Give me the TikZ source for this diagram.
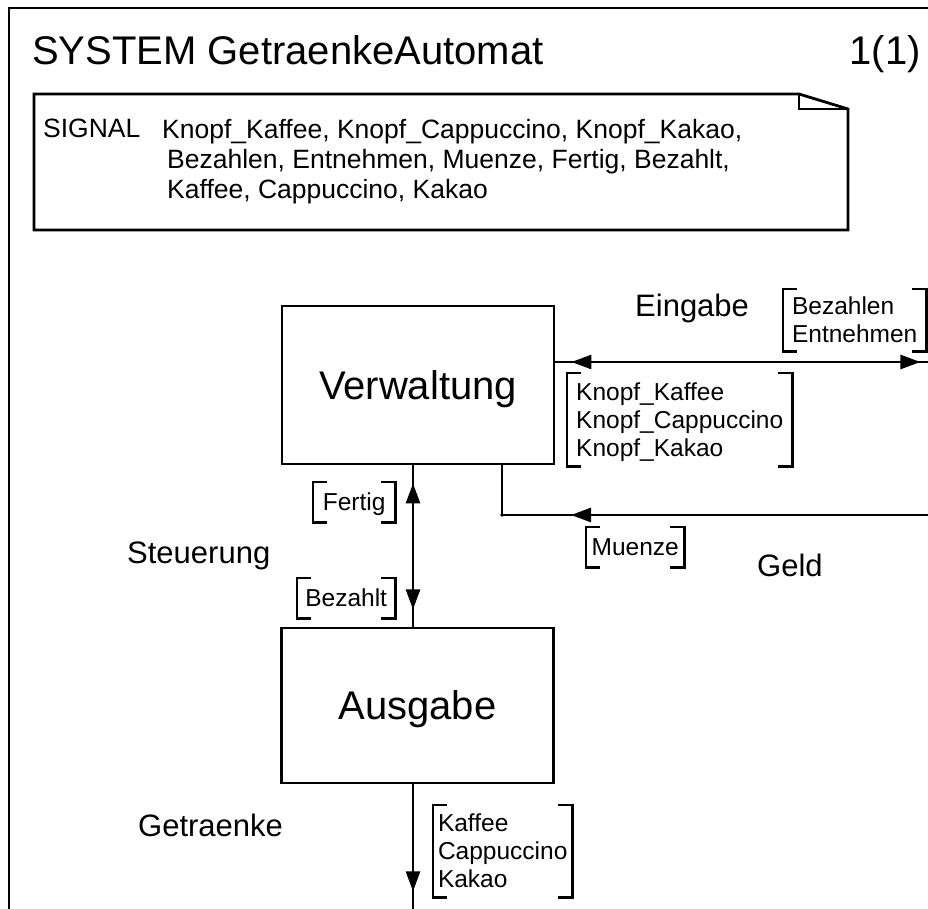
\documentclass[tikz,border=0pt]{standalone}
\usepackage{fontspec}
\setmainfont{Liberation Sans}
\usetikzlibrary{arrows.meta,decorations.markings}

% struts giving every line of a list the same height and depth
\newcommand\lstrut{\vrule width 0pt height 22.5pt depth 5.5pt}
\newcommand\sstrut{\vrule width 0pt height 20pt depth 10pt}

% square brackets on both sides of a signal list node
\newcommand\sigbracket[1]{%
  \draw[brkline] ([xshift=14pt]#1.north west) -- (#1.north west) -- (#1.south west) -- ([xshift=14pt]#1.south west);
  \draw[brkline] ([xshift=-14pt]#1.north east) -- (#1.north east) -- (#1.south east) -- ([xshift=-14pt]#1.south east);}

\tikzset{sdltip/.tip={Triangle[length=20pt,width=14pt]}}

\begin{document}
\begin{tikzpicture}[x=1pt,y=-1pt,
  frame/.style={line width=2.8pt, line join=miter},
  block/.style={draw, line width=2.8pt, minimum width=272pt, inner sep=0pt,
    font=\fontsize{40}{48}\selectfont, text height=28.6pt, text depth=0pt},
  conn/.style={line width=2.6pt},
  chan/.style={anchor=base west, inner sep=0pt, font=\fontsize{31}{36}\selectfont},
  bracketlist/.style={anchor=north west, align=left, inner sep=0pt,
    font=\fontsize{24.5}{28}\selectfont},
  brkline/.style={line width=2.4pt},
  fwd/.style={postaction={decorate, decoration={markings,
    mark=at position #1 with {\arrow{sdltip}}}}},
  bwd/.style={postaction={decorate, decoration={markings,
    mark=at position #1 with {\arrowreversed{sdltip}}}}}
]
\useasboundingbox (0,0) rectangle (928,909);

% outer frame
\coordinate (frBL) at (9,909);
\coordinate (frTL) at (9,8);
\coordinate (frTR) at (928,8);
\draw[frame] (frBL) -- (frTL) -- (frTR);

% heading
\node[anchor=base west, inner sep=0pt, font=\fontsize{40}{48}\selectfont] (title) at (32,65) {SYSTEM GetraenkeAutomat};
\node[anchor=base east, inner sep=0pt, font=\fontsize{40}{48}\selectfont] (pageno) at (921,65) {1(1)};

% signal declaration with folded corner
\coordinate (sbNW) at (34,94);
\coordinate (sbFold) at (799,94);
\coordinate (sbNE) at (848,109);
\coordinate (sbSE) at (848,230);
\coordinate (sbSW) at (34,230);
\draw[frame] (sbNW) -- (sbFold) -- (sbNE) -- (sbSE) -- (sbSW) -- cycle;
\draw[frame] (sbFold) -- (sbFold |- sbNE) -- (sbNE);
\node[anchor=base west, inner sep=0pt, font=\fontsize{26.5}{30}\selectfont] (sigkw) at (43,138) {SIGNAL};
\node[anchor=north west, inner sep=0pt, align=left, font=\fontsize{26.5}{30}\selectfont] (siglist) at (162,118)
  {\sstrut Knopf\_Kaffee, Knopf\_Cappuccino, Knopf\_Kakao,\\
   \hspace*{5pt}\sstrut Bezahlen, Entnehmen, Muenze, Fertig, Bezahlt,\\
   \hspace*{5pt}\sstrut Kaffee, Cappuccino, Kakao};

% blocks
\node[block, minimum height=158pt] (verw) at (418,385) {Verwaltung};
\node[block, minimum height=155pt] (ausg) at (417.5,705.5) {Ausgabe};

% channel Eingabe
\coordinate (einR) at (928,362);
\draw[conn, bwd=16pt, fwd=365pt] (verw.east |- einR) -- (einR);
\node[chan] (eing) at (635,316) {Eingabe};
\node[bracketlist, minimum width=143pt, minimum height=62pt] (einsig) at (783,289)
  {\lstrut Bezahlen\\\lstrut Entnehmen};
\sigbracket{einsig}
\node[bracketlist, minimum width=225pt, minimum height=93pt] (knopfsig) at (567,373)
  {\lstrut Knopf\_Kaffee\\\lstrut Knopf\_Cappuccino\\\lstrut Knopf\_Kakao};
\sigbracket{knopfsig}

% channel Geld
\coordinate (geldR) at (928,515);
\coordinate (geldC) at (502,515);
\draw[conn, fwd=357pt] (geldR) -- (geldC) -- (geldC |- verw.south);
\fill (geldC) circle (1.8pt);
\node[chan] (geld) at (757,576) {Geld};
\node[bracketlist, minimum width=98pt, minimum height=40pt] (muenzesig) at (586,527)
  {\lstrut Muenze};
\sigbracket{muenzesig}

% channel Steuerung
\coordinate (steuX) at (413,545);
\draw[conn, bwd=18pt, fwd=144pt] (steuX |- verw.south) -- (steuX |- ausg.north);
\node[chan] (steuer) at (127,563) {Steuerung};
\node[bracketlist, minimum width=82pt, minimum height=40pt] (fertigsig) at (313,482)
  {\lstrut Fertig};
\sigbracket{fertigsig}
\node[bracketlist, minimum width=98pt, minimum height=40pt] (bezahltsig) at (297,578)
  {\lstrut Bezahlt};
\sigbracket{bezahltsig}

% channel Getraenke
\coordinate (getrEnd) at (413,909);
\draw[conn, fwd=107pt] (getrEnd |- ausg.south) -- (getrEnd);
\node[chan] (getr) at (138,836) {Getraenke};
\node[bracketlist, minimum width=139pt, minimum height=92pt] (getrsig) at (433,805)
  {\lstrut Kaffee\\\lstrut Cappuccino\\\lstrut Kakao};
\sigbracket{getrsig}
\end{tikzpicture}
\end{document}
